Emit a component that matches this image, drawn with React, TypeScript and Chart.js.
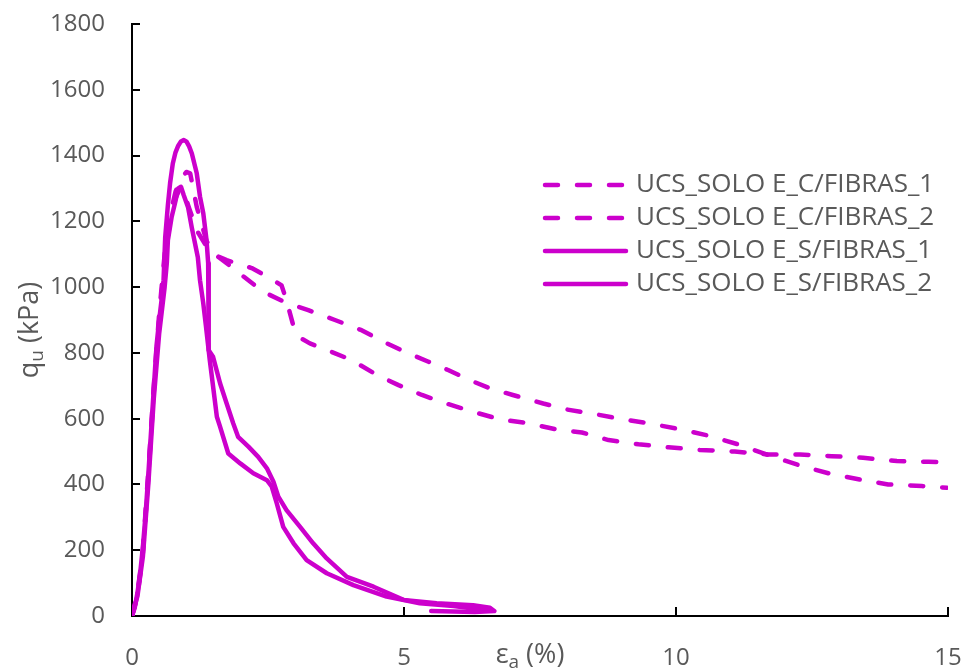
import React, { useEffect, useRef } from 'react';
import { Chart, registerables } from 'chart.js';

Chart.register(...registerables);

const COLOR = '#CC00CC';
const TEXT = '#595959';
const FONT = "'Open Sans', 'DejaVu Sans', sans-serif";

const seriesLabels = [
  'UCS_SOLO E_C/FIBRAS_1',
  'UCS_SOLO E_C/FIBRAS_2',
  'UCS_SOLO E_S/FIBRAS_1',
  'UCS_SOLO E_S/FIBRAS_2',
];

const xTicks = [0, 5, 10, 15];
const yTicks = [0, 200, 400, 600, 800, 1000, 1200, 1400, 1600, 1800];

// C/FIBRAS_1 (dashed)
const cf1X = [0, 0.1, 0.2, 0.3, 0.4, 0.5, 0.6, 0.7, 0.8, 0.88, 0.95, 1.05, 1.2, 1.4, 1.6, 1.8, 2.02, 2.41, 2.8, 3.24, 3.73, 4.22, 4.62, 5.02, 5.45, 5.81, 6.21, 6.58, 7.0, 7.56, 7.99, 8.54, 9.03, 9.49, 10.07, 10.63, 11.18, 11.7, 12.25, 12.8, 13.38, 13.9, 14.52, 14.98];
const cf1Y = [0, 60, 190, 420, 680, 900, 1080, 1200, 1270, 1300, 1290, 1240, 1170, 1115, 1090, 1065, 1036, 986, 955, 930, 900, 869, 834, 803, 773, 748, 717, 692, 672, 646, 628, 613, 598, 586, 568, 547, 520, 489, 459, 434, 415, 400, 395, 390];

// C/FIBRAS_2 (dashed)
const cf2X = [0, 0.1, 0.2, 0.3, 0.4, 0.5, 0.6, 0.7, 0.8, 0.9, 1.0, 1.07, 1.19, 1.37, 1.56, 1.74, 2.2, 2.54, 2.75, 2.84, 2.97, 3.1, 3.27, 3.67, 4.04, 4.5, 4.9, 5.33, 5.78, 6.27, 6.76, 7.29, 7.78, 8.27, 8.76, 9.31, 9.86, 10.44, 11.08, 11.7, 12.28, 12.86, 13.44, 14.06, 14.64, 15];
const cf2Y = [0, 70, 200, 440, 700, 920, 1100, 1220, 1290, 1330, 1350, 1346, 1244, 1140, 1095, 1082, 1058, 1027, 1005, 960, 880, 845, 829, 803, 778, 733, 702, 672, 646, 621, 598, 586, 568, 558, 535, 522, 513, 505, 500, 491, 491, 486, 481, 471, 469, 468];

// S/FIBRAS_1 (solid)
const sf1X = [0, 0.05, 0.1, 0.15, 0.2, 0.25, 0.3, 0.35, 0.4, 0.45, 0.5, 0.55, 0.58, 0.61, 0.64, 0.66, 0.7, 0.75, 0.8, 0.85, 0.9, 0.95, 1.0, 1.05, 1.1, 1.19, 1.25, 1.31, 1.37, 1.4, 1.41, 1.49, 1.62, 1.74, 1.86, 1.95, 2.14, 2.32, 2.48, 2.6, 2.69, 2.84, 3.09, 3.33, 3.58, 3.95, 4.44, 4.99, 5.6, 6.27, 6.58, 6.66, 6.3, 5.5];
const sf1Y = [0, 25, 70, 130, 210, 310, 430, 560, 690, 820, 900, 970, 1021, 1150, 1210, 1250, 1316, 1376, 1410, 1430, 1443, 1447, 1443, 1428, 1406, 1346, 1275, 1225, 1143, 1073, 808, 788, 707, 646, 586, 545, 515, 484, 449, 408, 363, 322, 271, 221, 175, 119, 89, 49, 39, 33, 25, 15, 12, 15];

// S/FIBRAS_2 (solid)
const sf2X = [0, 0.1, 0.2, 0.3, 0.4, 0.5, 0.6, 0.64, 0.66, 0.73, 0.79, 0.85, 0.9, 0.95, 1.03, 1.1, 1.21, 1.25, 1.31, 1.36, 1.43, 1.56, 1.62, 1.77, 1.99, 2.23, 2.48, 2.57, 2.66, 2.78, 2.97, 3.21, 3.58, 4.07, 4.68, 5.29, 5.91, 6.27, 6.5];
const sf2Y = [0, 60, 180, 400, 660, 860, 1000, 1073, 1143, 1214, 1255, 1300, 1305, 1280, 1243, 1180, 1091, 1021, 951, 880, 778, 606, 575, 494, 464, 434, 413, 393, 343, 271, 221, 170, 130, 94, 59, 39, 30, 23, 20];

const DASH = [13, 19];

function pts(xs: number[], ys: number[]) {
  return xs.map((x, i) => ({ x, y: ys[i] }));
}

function drawSubText(ctx: CanvasRenderingContext2D, main: string, sub: string, rest: string, cx: number, cy: number, size: number) {
  const big = `${size}px ${FONT}`;
  const small = `${Math.round(size * 0.7)}px ${FONT}`;
  ctx.font = big;
  const w1 = ctx.measureText(main).width;
  const w3 = ctx.measureText(rest).width;
  ctx.font = small;
  const w2 = ctx.measureText(sub).width;
  const total = w1 + w2 + w3;
  let x = cx - total / 2;
  ctx.textBaseline = 'middle';
  ctx.textAlign = 'left';
  ctx.fillStyle = TEXT;
  ctx.font = big;
  ctx.fillText(main, x, cy);
  x += w1;
  ctx.font = small;
  ctx.fillText(sub, x, cy + size * 0.28);
  x += w2;
  ctx.font = big;
  ctx.fillText(rest, x, cy);
}

const overlay = {
  id: 'overlay',
  afterDraw(chart: any) {
    const ctx: CanvasRenderingContext2D = chart.ctx;
    const { left, bottom } = chart.chartArea;
    const xs = chart.scales.x;
    const ys = chart.scales.y;
    ctx.save();
    ctx.strokeStyle = '#000';
    ctx.lineWidth = 2;
    ctx.setLineDash([]);
    ctx.beginPath();
    yTicks.forEach((v) => {
      if (v === 0) return;
      const py = Math.round(ys.getPixelForValue(v));
      ctx.moveTo(left, py);
      ctx.lineTo(left + 8, py);
    });
    xTicks.forEach((v) => {
      if (v === 0) return;
      const px = Math.round(xs.getPixelForValue(v));
      ctx.moveTo(px, bottom);
      ctx.lineTo(px, bottom - 9);
    });
    ctx.stroke();

    const rowY = [185, 218, 251, 284];
    chart.data.datasets.forEach((ds: any, i: number) => {
      const y = rowY[i];
      ctx.strokeStyle = COLOR;
      ctx.lineWidth = 4.5;
      ctx.lineCap = 'round';
      ctx.setLineDash(ds.borderDash || []);
      ctx.beginPath();
      ctx.moveTo(545, y);
      ctx.lineTo(626, y);
      ctx.stroke();
      ctx.setLineDash([]);
      ctx.fillStyle = TEXT;
      ctx.font = `26px ${FONT}`;
      ctx.textAlign = 'left';
      ctx.textBaseline = 'middle';
      ctx.fillText(ds.label, 636, y);
    });

    ctx.save();
    ctx.translate(30, 330);
    ctx.rotate(-Math.PI / 2);
    drawSubText(ctx, 'q', 'u', ' (kPa)', 0, 0, 27);
    ctx.restore();
    drawSubText(ctx, 'ε', 'a', ' (%)', 530, 655, 27);
    ctx.restore();
  },
};

export default function App() {
  const ref = useRef<HTMLCanvasElement>(null);
  useEffect(() => {
    document.body.style.margin = '0';
    const mk = (i: number, xs: number[], ys: number[], dashed: boolean) => ({
      label: seriesLabels[i],
      data: pts(xs, ys),
      showLine: true,
      borderColor: COLOR,
      backgroundColor: COLOR,
      borderWidth: 4.5,
      borderDash: dashed ? DASH : [],
      borderCapStyle: 'round' as const,
      borderJoinStyle: 'round' as const,
      pointRadius: 0,
      tension: 0,
      fill: false,
    });
    const chart = new Chart(ref.current!, {
      type: 'scatter',
      data: {
        datasets: [
          mk(0, cf1X, cf1Y, true),
          mk(1, cf2X, cf2Y, true),
          mk(2, sf1X, sf1Y, false),
          mk(3, sf2X, sf2Y, false),
        ],
      },
      options: {
        responsive: false,
        animation: false,
        layout: { padding: { top: 24, right: 18, left: 0, bottom: 0 } },
        plugins: { legend: { display: false }, tooltip: { enabled: false } },
        scales: {
          x: {
            type: 'linear',
            min: 0,
            max: 15,
            afterBuildTicks: (s: any) => { s.ticks = xTicks.map((v) => ({ value: v })); },
            ticks: { color: TEXT, font: { family: FONT, size: 24 }, padding: 28, maxRotation: 0, callback: (v: any) => String(v) },
            grid: { display: false, drawTicks: false },
            border: { color: '#000', width: 2 },
            afterFit: (s: any) => { s.height = 53; s.paddingLeft = 0; s.paddingRight = 0; },
          },
          y: {
            type: 'linear',
            min: 0,
            max: 1800,
            afterBuildTicks: (s: any) => { s.ticks = yTicks.map((v) => ({ value: v })); },
            ticks: { color: TEXT, font: { family: FONT, size: 24 }, padding: 27, callback: (v: any) => String(v) },
            grid: { display: false, drawTicks: false },
            border: { color: '#000', width: 2 },
            afterFit: (s: any) => { s.width = 132; s.paddingTop = 0; s.paddingBottom = 0; },
          },
        },
      },
      plugins: [overlay],
    });
    return () => chart.destroy();
  }, []);
  return <canvas ref={ref} width={966} height={669} style={{ display: 'block' }} />;
}
